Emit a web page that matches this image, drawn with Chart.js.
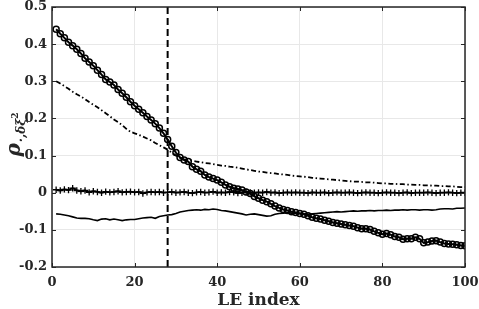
<!DOCTYPE html>
<html>
<head>
<meta charset="utf-8">
<script src="https://cdn.jsdelivr.net/npm/chart.js@4.4.1/dist/chart.umd.min.js"></script>
<style>
  body { margin: 0; background: #fff; }
  #wrap { width: 479px; height: 309px; }
</style>
</head>
<body>
<div id="wrap"><canvas id="chart" width="479" height="309"></canvas></div>
<script>
// LE index 1..100
const leIndex = Array.from({ length: 100 }, (_, i) => i + 1);

// circles series
const circleVals = [
  0.440, 0.428, 0.417, 0.405, 0.396, 0.386, 0.375, 0.362, 0.352, 0.342,
  0.330, 0.318, 0.305, 0.298, 0.290, 0.278, 0.268, 0.257, 0.245, 0.234,
  0.225, 0.215, 0.205, 0.196, 0.186, 0.174, 0.160, 0.143, 0.125, 0.108,
  0.095, 0.088, 0.084, 0.070, 0.063, 0.058, 0.048, 0.042, 0.038, 0.034,
  0.028, 0.021, 0.016, 0.012, 0.010, 0.007, 0.002, -0.002, -0.010, -0.015,
  -0.020, -0.024, -0.030, -0.036, -0.041, -0.045, -0.048, -0.051, -0.053, -0.056,
  -0.058, -0.062, -0.066, -0.069, -0.071, -0.074, -0.077, -0.080, -0.082, -0.084,
  -0.086, -0.088, -0.090, -0.094, -0.097, -0.097, -0.099, -0.104, -0.108, -0.112,
  -0.110, -0.113, -0.118, -0.120, -0.125, -0.124, -0.124, -0.120, -0.124, -0.135,
  -0.133, -0.130, -0.129, -0.133, -0.137, -0.138, -0.139, -0.140, -0.142, -0.143
];

// dash-dot series
const dashDotVals = [
  0.300, 0.294, 0.287, 0.280, 0.272, 0.265, 0.259, 0.252, 0.244, 0.237,
  0.230, 0.222, 0.214, 0.206, 0.197, 0.190, 0.182, 0.172, 0.164, 0.160,
  0.156, 0.151, 0.146, 0.141, 0.134, 0.128, 0.122, 0.116, 0.108, 0.100,
  0.094, 0.090, 0.088, 0.086, 0.084, 0.082, 0.080, 0.079, 0.077, 0.075,
  0.073, 0.072, 0.070, 0.069, 0.067, 0.065, 0.063, 0.061, 0.059, 0.057,
  0.056, 0.054, 0.053, 0.052, 0.050, 0.049, 0.048, 0.046, 0.045, 0.044,
  0.043, 0.042, 0.040, 0.039, 0.038, 0.037, 0.036, 0.035, 0.034, 0.033,
  0.032, 0.031, 0.030, 0.030, 0.029, 0.028, 0.028, 0.027, 0.026, 0.025,
  0.025, 0.024, 0.024, 0.023, 0.023, 0.022, 0.022, 0.021, 0.021, 0.020,
  0.020, 0.019, 0.019, 0.018, 0.018, 0.017, 0.017, 0.016, 0.015, 0.015
];

// plus-marker series
const plusVals = [
  0.008, 0.006, 0.009, 0.007, 0.012, 0.006, 0.004, 0.006, 0.001, 0.004,
  0.002, 0.000, 0.003, 0.001, 0.002, 0.004, 0.001, 0.002, 0.003, 0.001,
  0.002, -0.002, 0.001, 0.002, 0.001, 0.002, 0.000, 0.001, 0.002, 0.000,
  0.001, 0.002, 0.000, -0.001, 0.001, 0.002, 0.000, 0.001, 0.003, 0.000,
  0.001, 0.000, 0.002, 0.001, -0.001, 0.000, 0.002, 0.001, 0.000, 0.001,
  0.000, 0.002, 0.000, 0.001, -0.001, 0.000, 0.001, 0.000, 0.001, 0.000,
  0.000, -0.001, 0.001, 0.000, 0.000, 0.001, -0.001, 0.000, 0.001, 0.000,
  0.000, 0.001, 0.000, -0.001, 0.000, 0.001, 0.000, 0.000, -0.001, 0.000,
  0.001, 0.000, 0.000, -0.001, 0.000, 0.001, -0.001, 0.000, 0.000, 0.000,
  0.001, 0.000, -0.001, 0.000, 0.000, 0.001, 0.000, -0.001, 0.000, 0.000
];

// solid series
const solidVals = [
  -0.057, -0.058, -0.060, -0.062, -0.065, -0.068, -0.069, -0.069, -0.070, -0.073,
  -0.075, -0.071, -0.070, -0.073, -0.071, -0.073, -0.075, -0.073, -0.072, -0.072,
  -0.070, -0.068, -0.067, -0.066, -0.069, -0.064, -0.062, -0.060, -0.059, -0.056,
  -0.052, -0.050, -0.048, -0.047, -0.046, -0.047, -0.045, -0.046, -0.044, -0.045,
  -0.048, -0.049, -0.051, -0.053, -0.055, -0.057, -0.060, -0.058, -0.057, -0.059,
  -0.061, -0.063, -0.062, -0.058, -0.056, -0.055, -0.054, -0.055, -0.056, -0.056,
  -0.057, -0.058, -0.057, -0.056, -0.055, -0.054, -0.053, -0.052, -0.051, -0.052,
  -0.051, -0.050, -0.049, -0.050, -0.049, -0.049, -0.048, -0.049, -0.048, -0.048,
  -0.047, -0.048, -0.047, -0.047, -0.046, -0.047, -0.046, -0.046, -0.047, -0.046,
  -0.046, -0.047, -0.046, -0.044, -0.043, -0.043, -0.044, -0.042, -0.042, -0.041
];

const vlineX = 28;
const xTicks = [0, 20, 40, 60, 80, 100];
const yTicks = [-0.2, -0.1, 0, 0.1, 0.2, 0.3, 0.4, 0.5];

const FONT = "'DejaVu Serif', serif";
const INK = '#262626';

function pts(vals) {
  return vals.map((v, i) => ({ x: leIndex[i], y: v }));
}

function fmtY(v) {
  if (Math.abs(v) < 1e-9) return '0';
  return v.toFixed(1);
}

// box, inward ticks and the y label
const framePlugin = {
  id: 'frame',
  afterDraw(chart) {
    const { ctx, chartArea: a, scales } = chart;
    ctx.save();
    ctx.strokeStyle = INK;
    ctx.lineWidth = 1;
    ctx.beginPath();
    xTicks.forEach(t => {
      const px = Math.round(scales.x.getPixelForValue(t)) + 0.5;
      ctx.moveTo(px, a.bottom); ctx.lineTo(px, a.bottom - 4);
      ctx.moveTo(px, a.top); ctx.lineTo(px, a.top + 4);
    });
    yTicks.forEach(t => {
      const py = Math.round(scales.y.getPixelForValue(t)) + 0.5;
      ctx.moveTo(a.left, py); ctx.lineTo(a.left + 4, py);
      ctx.moveTo(a.right, py); ctx.lineTo(a.right - 4, py);
    });
    ctx.stroke();
    ctx.lineWidth = 1.5;
    ctx.strokeRect(a.left, a.top, a.right - a.left, a.bottom - a.top);

    // rho_{.,delta xi^2}
    ctx.fillStyle = INK;
    ctx.translate(20, (a.top + a.bottom) / 2 - 2);
    ctx.rotate(-Math.PI / 2);
    ctx.textBaseline = 'alphabetic';
    const f1 = 'italic bold 20px ' + FONT;
    const f2 = 'italic bold 12px ' + FONT;
    const f3 = 'bold 9px ' + FONT;
    ctx.font = f1; const w1 = ctx.measureText('ρ').width;
    ctx.font = f2; const w2 = ctx.measureText('·,δξ').width;
    ctx.font = f3; const w3 = ctx.measureText('2').width;
    let x0 = -(w1 + w2 + w3) / 2;
    ctx.font = f1; ctx.fillText('ρ', x0, 0);
    x0 += w1 + 1;
    ctx.font = f2; ctx.fillText('·,δξ', x0, 5);
    x0 += w2;
    ctx.font = f3; ctx.fillText('2', x0, -2);
    ctx.restore();
  }
};

new Chart(document.getElementById('chart'), {
  type: 'line',
  data: {
    datasets: [
      {
        data: [{ x: vlineX, y: -0.2 }, { x: vlineX, y: 0.5 }],
        borderColor: '#000', borderWidth: 2, borderDash: [7, 4],
        pointRadius: 0
      },
      {
        data: pts(circleVals),
        borderColor: '#000', borderWidth: 2,
        pointStyle: 'circle', pointRadius: 3, pointBorderWidth: 1.5,
        pointBorderColor: '#000', pointBackgroundColor: 'rgba(0,0,0,0)'
      },
      {
        data: pts(dashDotVals),
        borderColor: '#000', borderWidth: 1.8, borderDash: [5, 2.5, 1.5, 2.5],
        pointRadius: 0
      },
      {
        data: pts(plusVals),
        borderColor: '#000', borderWidth: 1.8,
        pointStyle: 'cross', pointRadius: 3.2, pointBorderWidth: 1.3,
        pointBorderColor: '#000'
      },
      {
        data: pts(solidVals),
        borderColor: '#000', borderWidth: 1.6,
        pointRadius: 0
      }
    ]
  },
  options: {
    responsive: false,
    animation: false,
    events: [],
    layout: { padding: { top: 7, right: 14, left: 0, bottom: 0 } },
    plugins: { legend: { display: false }, tooltip: { enabled: false } },
    elements: { line: { tension: 0 } },
    scales: {
      x: {
        type: 'linear', min: 0, max: 100,
        afterFit: s => { s.height = 42; s.paddingLeft = 0; s.paddingRight = 0; },
        afterBuildTicks: s => { s.ticks = xTicks.map(v => ({ value: v })); },
        grid: { color: '#e8e8e8', drawTicks: false },
        border: { display: false },
        ticks: { color: INK, padding: 8, maxRotation: 0, font: { family: FONT, size: 13, weight: 'bold' } },
        title: {
          display: true, text: 'LE index', color: INK,
          padding: { top: 0, bottom: 0 },
          font: { family: FONT, size: 17, weight: 'bold', lineHeight: 1 }
        }
      },
      y: {
        type: 'linear', min: -0.2, max: 0.5,
        afterFit: s => { s.width = 52; s.paddingTop = 0; s.paddingBottom = 0; },
        afterBuildTicks: s => { s.ticks = yTicks.map(v => ({ value: v })); },
        grid: { color: '#e8e8e8', drawTicks: false },
        border: { display: false },
        ticks: { color: INK, padding: 5, callback: fmtY, font: { family: FONT, size: 13, weight: 'bold' } }
      }
    }
  },
  plugins: [framePlugin]
});
</script>
</body>
</html>
